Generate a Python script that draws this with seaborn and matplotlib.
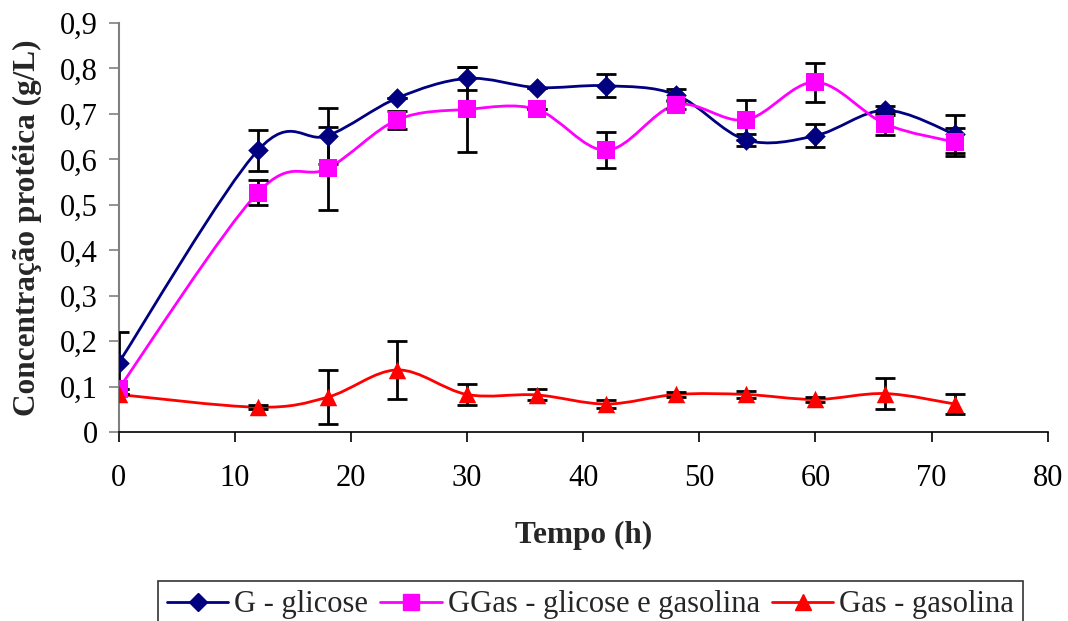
import numpy as np
import pandas as pd
import matplotlib
matplotlib.use("Agg")
import matplotlib.pyplot as plt
import seaborn as sns
from matplotlib.path import Path
from matplotlib.patches import PathPatch
from matplotlib.lines import Line2D
from matplotlib.ticker import FuncFormatter

tempo = [0, 12, 18, 24, 30, 36, 42, 48, 54, 60, 66, 72]
g_glicose = [0.152, 0.620, 0.652, 0.735, 0.778, 0.758, 0.762, 0.742, 0.643, 0.652, 0.708, 0.655]
g_err = [0.068, 0.045, 0.062, 0.0, 0.025, 0.0, 0.025, 0.013, 0.013, 0.025, 0.010, 0.042]
ggas = [0.095, 0.527, 0.580, 0.687, 0.710, 0.710, 0.620, 0.720, 0.687, 0.770, 0.678, 0.638]
ggas_err = [0.0, 0.027, 0.091, 0.020, 0.094, 0.0, 0.040, 0.010, 0.044, 0.043, 0.025, 0.030]
gas = [0.083, 0.055, 0.077, 0.137, 0.083, 0.082, 0.062, 0.083, 0.083, 0.072, 0.085, 0.062]
gas_err = [0.0, 0.005, 0.060, 0.063, 0.023, 0.012, 0.008, 0.006, 0.008, 0.006, 0.035, 0.023]

labels = ["G - glicose", "GGas - glicose e gasolina", "Gas - gasolina"]
colors = ["#000080", "#FF00FF", "#FF0000"]
markers = ["D", "s", "^"]
msizes = [10, 12, 12]

sns.set_theme(style="white")
plt.rcParams["font.family"] = ["Liberation Serif", "DejaVu Serif"]

fig = plt.figure(figsize=(10.68, 6.21), dpi=100)
ax = fig.add_axes([0.111, 0.304, 0.870, 0.659])


def smooth_path(x, y, t=1/6):
    x = np.asarray(x, float)
    y = np.asarray(y, float)
    n = len(x)
    verts = [(x[0], y[0])]
    codes = [Path.MOVETO]
    for i in range(n - 1):
        p0 = np.array([x[max(i - 1, 0)], y[max(i - 1, 0)]])
        p1 = np.array([x[i], y[i]])
        p2 = np.array([x[i + 1], y[i + 1]])
        p3 = np.array([x[min(i + 2, n - 1)], y[min(i + 2, n - 1)]])
        c1 = p1 + (p2 - p0) * t
        c2 = p2 - (p3 - p1) * t
        verts += [tuple(c1), tuple(c2), tuple(p2)]
        codes += [Path.CURVE4] * 3
    return Path(verts, codes)


series = [g_glicose, ggas, gas]
errs = [g_err, ggas_err, gas_err]

for vals, er, col in zip(series, errs, colors):
    sy = 80 / 0.9 * (409 / 929)
    p = smooth_path(np.array(tempo, float), np.array(vals) * sy)
    v = p.vertices.copy()
    v[:, 1] /= sy
    p = Path(v, p.codes)
    ax.add_patch(PathPatch(p, facecolor="none", edgecolor=col, lw=2, zorder=2))
    ax.errorbar(tempo, vals, yerr=er, fmt="none", ecolor="black", elinewidth=2,
                capsize=7, capthick=2, zorder=3)

df = pd.DataFrame({
    "tempo": tempo * 3,
    "valor": g_glicose + ggas + gas,
    "serie": [labels[0]] * len(tempo) + [labels[1]] * len(tempo) + [labels[2]] * len(tempo),
})
for lab, col, mk, ms in zip(labels, colors, markers, msizes):
    sub = df[df["serie"] == lab]
    sns.scatterplot(data=sub, x="tempo", y="valor", marker=mk, color=col,
                    s=ms ** 2 * 1.1, edgecolor=col, linewidth=0, ax=ax, zorder=4)

ax.set_xlim(0, 80)
ax.set_ylim(0, 0.9)
ax.set_xticks(np.arange(0, 81, 10))
ax.set_yticks(np.arange(0, 0.91, 0.1))
ax.yaxis.set_major_formatter(FuncFormatter(lambda v, p: "0" if abs(v) < 1e-9 else f"{v:.1f}".replace(".", ",")))
for s in ["top", "right"]:
    ax.spines[s].set_visible(False)
ax.spines["left"].set_color("#808080")
ax.spines["bottom"].set_color("black")
ax.spines["left"].set_linewidth(1.5)
ax.spines["bottom"].set_linewidth(1.2)
ax.tick_params(axis="both", which="major", direction="out", length=7, width=1.2,
               labelsize=22, colors="black", left=True, bottom=True)
ax.tick_params(axis="y", color="#808080", pad=8)
ax.tick_params(axis="x", pad=16)
ax.set_xlabel("Tempo (h)", fontsize=22.5, fontweight="bold", labelpad=20)
ax.set_ylabel("Concentração protéica (g/L)", fontsize=22.5, fontweight="bold", labelpad=13)
ax.grid(False)
ax.set_facecolor("white")

handles = [Line2D([0], [0], color=c, lw=2, marker=m, markersize=ms * 0.95, markeredgecolor=c)
           for c, m, ms in zip(colors, markers, msizes)]
leg = fig.legend(handles, labels, loc="lower center", bbox_to_anchor=(0.553, -0.012), ncol=3,
                 fontsize=22, frameon=True, fancybox=False, edgecolor="black",
                 handlelength=2.0, handletextpad=0.2, columnspacing=0.4, borderpad=0.3,
                 borderaxespad=0.0)
leg.get_frame().set_linewidth(1.2)

fig.savefig("out.png", dpi=100)
